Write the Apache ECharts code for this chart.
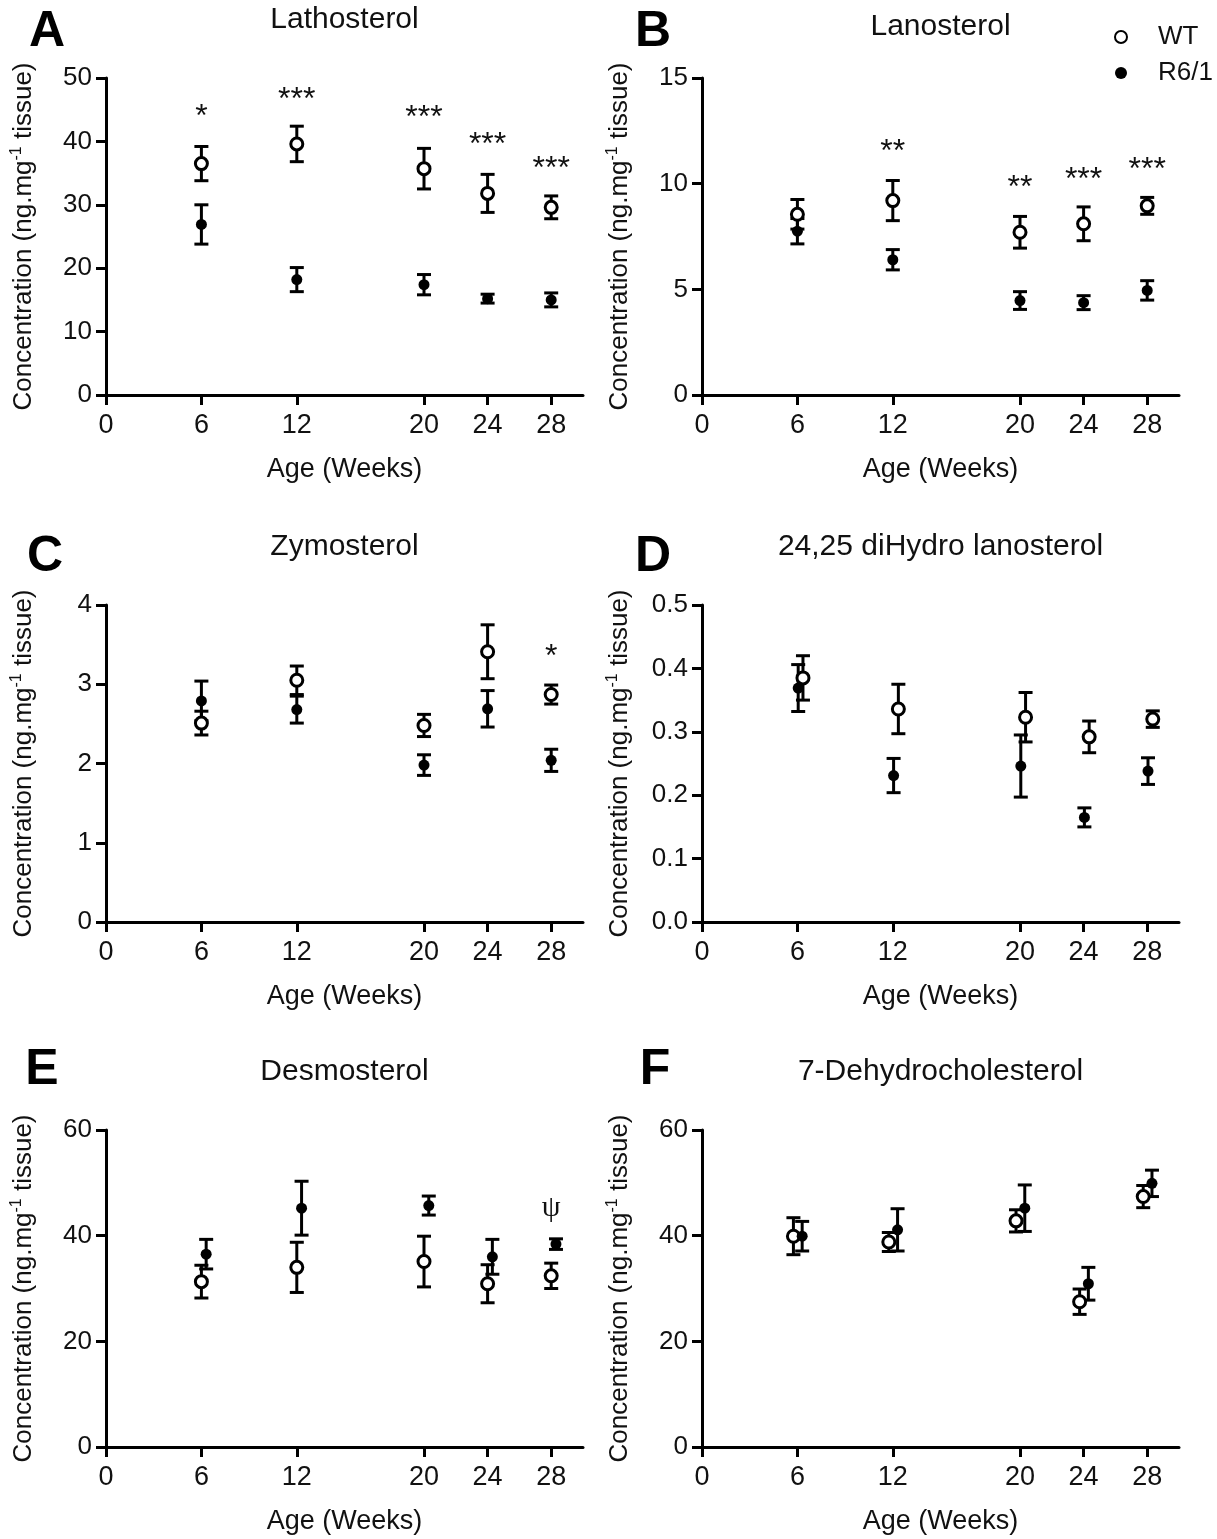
<!DOCTYPE html>
<html>
<head>
<meta charset="utf-8">
<title>Sterol concentrations by age</title>
<script src="https://cdn.jsdelivr.net/npm/echarts@6/dist/echarts.min.js"></script>
<style>
  html, body { margin: 0; padding: 0; background: #fff; }
  #chart { width: 1217px; height: 1539px; }
</style>
</head>
<body>
<div id="chart"></div>
<script>
// Ages sampled (weeks) and the x-axis tick values
const ages = [6, 12, 20, 24, 28];
const xTicks = [0, 6, 12, 20, 24, 28];

// A: Lathosterol (mean and SEM)
const lathosterolWT = [36.5, 39.6, 35.7, 31.8, 29.6];
const lathosterolWTsem = [2.7, 2.8, 3.2, 3.0, 1.8];
const lathosterolR61 = [26.9, 18.2, 17.4, 15.2, 15.0];
const lathosterolR61sem = [3.1, 1.9, 1.6, 0.7, 1.1];
const lathosterolSig = ['*', '***', '***', '***', '***'];
const lathosterolSigAt = [45.0, 47.6, 44.8, 40.5, 36.7];

// B: Lanosterol
const lanosterolWT = [8.55, 9.2, 7.7, 8.1, 8.95];
const lanosterolWTsem = [0.7, 0.95, 0.75, 0.8, 0.4];
const lanosterolR61 = [7.75, 6.4, 4.47, 4.37, 4.95];
const lanosterolR61sem = [0.6, 0.48, 0.42, 0.33, 0.46];
const lanosterolSig = ['', '**', '**', '***', '***'];
const lanosterolSigAt = [null, 11.83, 10.13, 10.5, 10.98];

// C: Zymosterol
const zymosterolWT = [2.51, 3.05, 2.48, 3.41, 2.87];
const zymosterolWTsem = [0.15, 0.18, 0.14, 0.34, 0.12];
const zymosterolR61 = [2.79, 2.68, 1.98, 2.69, 2.04];
const zymosterolR61sem = [0.25, 0.17, 0.13, 0.23, 0.14];
const zymosterolSig = ['', '', '', '', '*'];
const zymosterolSigAt = [null, null, null, null, 3.43];

// D: 24,25 diHydro lanosterol
const dihydroWT = [0.385, 0.336, 0.323, 0.292, 0.320];
const dihydroWTsem = [0.035, 0.039, 0.039, 0.025, 0.013];
const dihydroR61 = [0.369, 0.231, 0.246, 0.165, 0.238];
const dihydroR61sem = [0.037, 0.027, 0.049, 0.015, 0.021];

// E: Desmosterol
const desmosterolWT = [31.3, 34.0, 35.1, 30.9, 32.4];
const desmosterolWTsem = [3.1, 4.75, 4.8, 3.6, 2.4];
const desmosterolR61 = [36.5, 45.2, 45.7, 36.0, 38.4];
const desmosterolR61sem = [2.8, 5.1, 1.8, 3.3, 1.0];
const desmosterolSig = ['', '', '', '', '\u03C8'];
const desmosterolSigAt = [null, null, null, null, 45.2];

// F: 7-Dehydrocholesterol
const dhcWT = [39.9, 38.8, 42.8, 27.5, 47.4];
const dhcWTsem = [3.5, 1.8, 2.1, 2.4, 2.1];
const dhcR61 = [39.9, 41.1, 45.2, 30.9, 49.9];
const dhcR61sem = [2.8, 4.0, 4.4, 3.1, 2.5];

const FONT = '"Liberation Sans", Arial, Helvetica, sans-serif';

// Panel setup: titles, axis ranges, and horizontal dodge of the two groups
const panels = [
  { letter: 'A', title: 'Lathosterol', yMax: 50, yStep: 10, dec: 0,
    wt: lathosterolWT, wtErr: lathosterolWTsem, hd: lathosterolR61, hdErr: lathosterolR61sem,
    sig: lathosterolSig, sigAt: lathosterolSigAt, dodge: [0, 0] },
  { letter: 'B', title: 'Lanosterol', yMax: 15, yStep: 5, dec: 0,
    wt: lanosterolWT, wtErr: lanosterolWTsem, hd: lanosterolR61, hdErr: lanosterolR61sem,
    sig: lanosterolSig, sigAt: lanosterolSigAt, dodge: [0, 0] },
  { letter: 'C', title: 'Zymosterol', yMax: 4, yStep: 1, dec: 0,
    wt: zymosterolWT, wtErr: zymosterolWTsem, hd: zymosterolR61, hdErr: zymosterolR61sem,
    sig: zymosterolSig, sigAt: zymosterolSigAt, dodge: [0, 0] },
  { letter: 'D', title: '24,25 diHydro lanosterol', yMax: 0.5, yStep: 0.1, dec: 1,
    wt: dihydroWT, wtErr: dihydroWTsem, hd: dihydroR61, hdErr: dihydroR61sem,
    sig: null, sigAt: null, dodge: [0.35, 0.05] },
  { letter: 'E', title: 'Desmosterol', yMax: 60, yStep: 20, dec: 0,
    wt: desmosterolWT, wtErr: desmosterolWTsem, hd: desmosterolR61, hdErr: desmosterolR61sem,
    sig: desmosterolSig, sigAt: desmosterolSigAt, dodge: [0, 0.3], sigFont: 'serif' },
  { letter: 'F', title: '7-Dehydrocholesterol', yMax: 60, yStep: 20, dec: 0,
    wt: dhcWT, wtErr: dhcWTsem, hd: dhcR61, hdErr: dhcR61sem,
    sig: null, sigAt: null, dodge: [-0.25, 0.3] }
];

// Plot-area boxes (pixels)
const colLeft = [106, 702];
const colWidth = 477;
const rowTop = [78, 605, 1130];
const plotHeight = 317;
const titleY = [[20, 27], [547, 547], [1072, 1072]];
const letterPos = [[47, 32], [653, 32], [45, 557], [653, 557], [42, 1070], [655, 1070]];

const grids = [], xAxes = [], yAxes = [], series = [], graphics = [];

function errorBarRenderer(params, api) {
  const x = api.value(0);
  const lo = api.coord([x, api.value(1)]);
  const hi = api.coord([x, api.value(2)]);
  const cap = 7;
  const style = { stroke: '#000', lineWidth: 3, fill: null };
  return {
    type: 'group',
    children: [
      { type: 'line', shape: { x1: lo[0], y1: lo[1], x2: hi[0], y2: hi[1] }, style },
      { type: 'line', shape: { x1: lo[0] - cap, y1: lo[1], x2: lo[0] + cap, y2: lo[1] }, style },
      { type: 'line', shape: { x1: hi[0] - cap, y1: hi[1], x2: hi[0] + cap, y2: hi[1] }, style }
    ]
  };
}

panels.forEach((p, i) => {
  const row = Math.floor(i / 2), col = i % 2;
  grids.push({ left: colLeft[col], top: rowTop[row], width: colWidth, height: plotHeight, containLabel: false });

  const axisLine = { show: true, lineStyle: { color: '#000', width: 3 } };
  const axisTick = { show: true, length: 10, inside: false, lineStyle: { color: '#000', width: 3 } };

  xAxes.push({
    type: 'value', gridIndex: i, min: 0, max: 30,
    name: 'Age (Weeks)', nameLocation: 'middle', nameGap: 61,
    nameTextStyle: { fontFamily: FONT, fontSize: 27, color: '#111' },
    axisLine, splitLine: { show: false },
    axisTick: Object.assign({ customValues: xTicks }, axisTick),
    axisLabel: { customValues: xTicks, fontFamily: FONT, fontSize: 27, color: '#111', margin: 17 }
  });

  yAxes.push({
    type: 'value', gridIndex: i, min: 0, max: p.yMax, interval: p.yStep,
    name: '{n|Concentration (ng.mg}{s|-1}{n| tissue)}',
    nameLocation: 'middle', nameGap: 67,
    nameTextStyle: {
      rich: {
        n: { fontFamily: FONT, fontSize: 26, color: '#111', lineHeight: 30 },
        s: { fontFamily: FONT, fontSize: 16, color: '#111', lineHeight: 30, verticalAlign: 'top' }
      }
    },
    axisLine, axisTick, splitLine: { show: false },
    axisLabel: {
      fontFamily: FONT, fontSize: 26, color: '#111', margin: 14,
      formatter: v => v.toFixed(p.dec)
    }
  });

  const wtX = ages.map(a => a + p.dodge[0]);
  const hdX = ages.map(a => a + p.dodge[1]);

  series.push({
    type: 'custom', name: 'errWT', xAxisIndex: i, yAxisIndex: i, clip: false, silent: true,
    renderItem: errorBarRenderer,
    data: ages.map((a, k) => [wtX[k], p.wt[k] - p.wtErr[k], p.wt[k] + p.wtErr[k]]),
    encode: { x: 0, y: [1, 2] }, z: 2
  });
  series.push({
    type: 'custom', name: 'errR61', xAxisIndex: i, yAxisIndex: i, clip: false, silent: true,
    renderItem: errorBarRenderer,
    data: ages.map((a, k) => [hdX[k], p.hd[k] - p.hdErr[k], p.hd[k] + p.hdErr[k]]),
    encode: { x: 0, y: [1, 2] }, z: 2
  });
  series.push({
    type: 'scatter', name: 'WT', xAxisIndex: i, yAxisIndex: i,
    symbol: 'circle', symbolSize: 12,
    itemStyle: { color: '#fff', borderColor: '#000', borderWidth: 3, opacity: 1 },
    data: ages.map((a, k) => [wtX[k], p.wt[k]]), z: 3
  });
  series.push({
    type: 'scatter', name: 'R6/1', xAxisIndex: i, yAxisIndex: i,
    symbol: 'circle', symbolSize: 11,
    itemStyle: { color: '#000', opacity: 1 },
    data: ages.map((a, k) => [hdX[k], p.hd[k]]), z: 4
  });

  if (p.sig) {
    const sigData = [];
    p.sig.forEach((s, k) => { if (s) sigData.push([ages[k], p.sigAt[k]]); });
    const labels = p.sig.filter(s => s);
    const serif = p.sigFont === 'serif';
    series.push({
      type: 'custom', name: 'sig', xAxisIndex: i, yAxisIndex: i, clip: false, silent: true,
      data: sigData, encode: { x: 0, y: 1 }, z: 5,
      renderItem: (params, api) => {
        const pt = api.coord([api.value(0), api.value(1)]);
        return {
          type: 'text', x: pt[0], y: pt[1] + (serif ? 0 : 7),
          style: {
            text: labels[params.dataIndex], align: 'center', verticalAlign: 'middle',
            fontFamily: serif ? '"Liberation Serif", "DejaVu Serif", serif' : FONT,
            fontSize: serif ? 30 : 32, fill: '#111'
          }
        };
      }
    });
  }

  const cx = colLeft[col] + colWidth / 2;
  graphics.push({
    type: 'text', x: cx, y: titleY[row][col],
    style: { text: p.title, fontFamily: FONT, fontSize: 30, fill: '#111', align: 'center', verticalAlign: 'middle' }
  });
  graphics.push({
    type: 'text', x: letterPos[i][0], y: letterPos[i][1],
    style: { text: p.letter, fontFamily: FONT, fontWeight: 'bold', fontSize: 50, fill: '#000', align: 'center', verticalAlign: 'middle' }
  });
});

const chart = echarts.init(document.getElementById('chart'), null, { renderer: 'canvas' });
chart.setOption({
  backgroundColor: '#fff',
  animation: false,
  grid: grids,
  xAxis: xAxes,
  yAxis: yAxes,
  legend: {
    data: ['WT', 'R6/1'], orient: 'vertical', left: 1114, top: 24,
    itemWidth: 64, itemHeight: 12, itemGap: 10, padding: 0,
    textStyle: { fontFamily: FONT, fontSize: 26, color: '#111', lineHeight: 26 }
  },
  graphic: graphics,
  series
});
</script>
</body>
</html>
